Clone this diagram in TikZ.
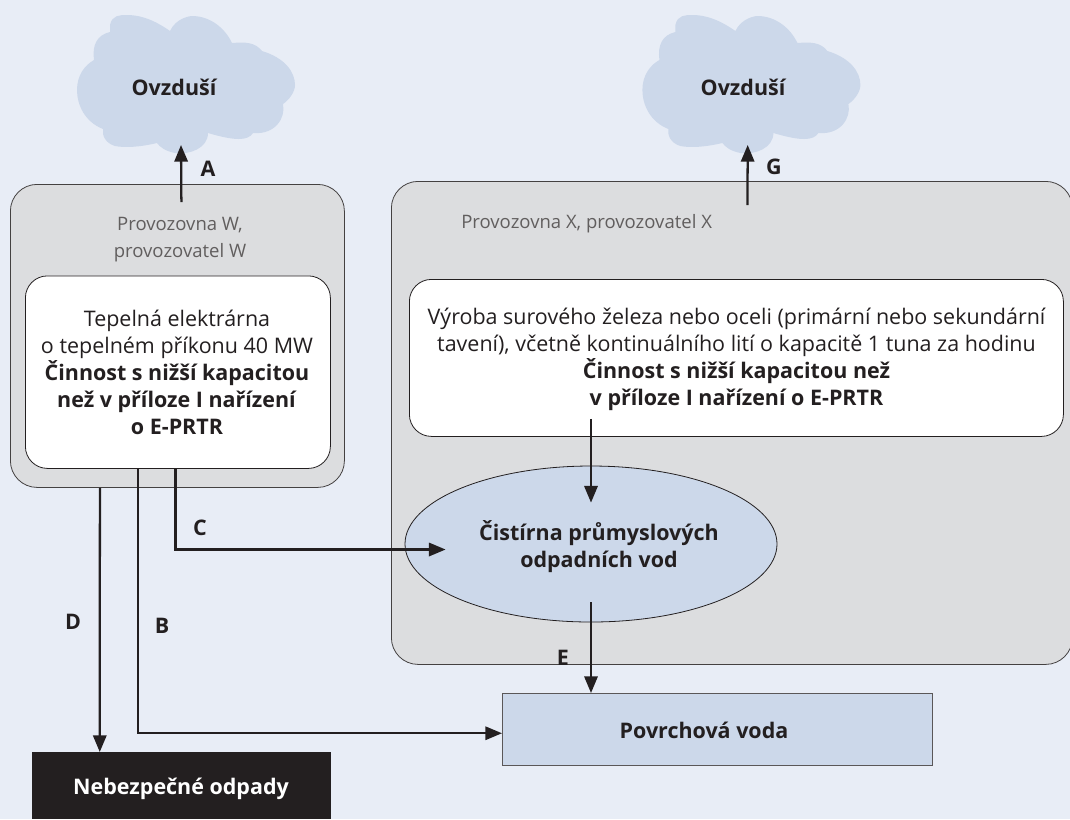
\documentclass[tikz,border=0pt]{standalone}
\usepackage{fontspec}
\setmainfont{Open Sans}
\usetikzlibrary{shapes.geometric,arrows.meta}
\definecolor{bgblue}{HTML}{E8EDF6}
\definecolor{cloudblue}{HTML}{CCD8EA}
\definecolor{boxgrey}{HTML}{DCDDDF}
\definecolor{inkdark}{HTML}{231F20}
\tikzset{
  x=0.75pt,y=-0.75pt,
  every node/.style={text=inkdark,font=\bodyfont,inner sep=0pt,align=center},
  cloudshape/.style={fill=cloudblue,draw=none},
  site/.style={draw=inkdark!85,line width=0.6pt,fill=boxgrey,rounded corners=20pt},
  inner box/.style={draw=inkdark,line width=0.6pt,fill=white,rounded corners=16.5pt},
  flow/.style={draw=inkdark,line width=1.7pt,-{Triangle[length=12.5pt,width=10pt]}},
  tag/.style={font=\bodyfont\bfseries},
  greytext/.style={text=inkdark!72,font=\greyfont},
}
\newcommand{\bodyfont}{\fontsize{16.1}{20.25}\selectfont}
\newcommand{\greyfont}{\fontsize{13.9}{20.25}\selectfont}
\newcommand{\cloudpath}{
  (110,25) .. controls (112,15) and (120,15) .. (127,15)
  .. controls (145,15) and (160,24) .. (170,31)
  .. controls (176,18) and (190,16) .. (192,16)
  .. controls (210,16) and (225,28) .. (232,43)
  .. controls (245,42) and (255,42) .. (262,51)
  .. controls (285,58) and (295,72) .. (295,85)
  .. controls (295,92) and (289,100) .. (283,104)
  .. controls (286,118) and (275,135) .. (253,133)
  .. controls (248,141) and (235,141) .. (208,133)
  .. controls (208,148) and (190,155) .. (175,153)
  .. controls (165,151) and (160,147) .. (157,143)
  .. controls (140,147) and (125,148) .. (115,146)
  .. controls (105,143) and (102,135) .. (103,129)
  .. controls (85,122) and (77,105) .. (77,90)
  .. controls (77,75) and (85,65) .. (94,60)
  .. controls (92,45) and (97,35) .. (110,32)
  .. controls (110,30) and (110,28) .. (110,25) -- cycle
}
\begin{document}
\begin{tikzpicture}
\useasboundingbox (0,0) rectangle (1070,819);
\fill[bgblue] (0,0) rectangle (1070,819);
% clouds
\fill[cloudshape] \cloudpath;
\begin{scope}[xshift=565.4*0.75pt]
\fill[cloudshape] \cloudpath;
\end{scope}
\node[tag] (air1) at (174,87) {Ovzduší};
\node[tag] (air2) at (743,87) {Ovzduší};
% sites
\node[site,minimum width=334*0.75pt,minimum height=303*0.75pt,anchor=north west] (siteW) at (10,184) {};
\node[site,minimum width=681*0.75pt,minimum height=483*0.75pt,anchor=north west] (siteX) at (391,181) {};
\node[greytext] (labW) at (180,239.5) {Provozovna W,\\provozovatel W};
\node[greytext,anchor=west] (labX) at (461,224) {Provozovna X, provozovatel X};
% activities
\node[inner box,minimum width=305*0.75pt,minimum height=192.5*0.75pt,anchor=north west] (actW) at (25,275.5) {};
\node (actWt) at (177,372) {Tepelná elektrárna\\o tepelném příkonu 40 MW\\\textbf{Činnost s nižší kapacitou}\\\textbf{než v příloze I nařízení}\\\textbf{o E-PRTR}};
\node[inner box,minimum width=654*0.75pt,minimum height=157*0.75pt,anchor=north west] (actX) at (409,279) {};
\node (actXt) at (736.5,359.5) {Výroba surového železa nebo oceli (primární nebo sekundární\\tavení), včetně kontinuálního lití o kapacitě 1 tuna za hodinu\\\textbf{Činnost s nižší kapacitou než}\\\textbf{v příloze I nařízení o E-PRTR}};
% treatment
\node[ellipse,draw=inkdark,line width=0.6pt,fill=cloudblue,minimum width=372*0.75pt,minimum height=156*0.75pt] (wwtp) at (591,544) {};
\node[font=\bodyfont\bfseries] (wwtpt) at (599,547) {Čistírna průmyslových\\odpadních vod};
% sinks
\node[draw=inkdark!75,line width=0.8pt,fill=cloudblue,minimum width=430*0.75pt,minimum height=72*0.75pt,anchor=north west,font=\bodyfont\bfseries] (water) at (502,693) {};
\node[tag] (watert) at (704,730) {Povrchová voda};
\node[fill=inkdark,minimum width=299*0.75pt,minimum height=67*0.75pt,anchor=north west] (waste) at (32,752) {};
\node[tag,text=white] (wastet) at (181,789) {Nebezpečné odpady};
% connectors
\draw[flow] ([shift={(4,18)}]siteW.north) -- ([shift={(7,58)}]air1.center);
\draw[flow] ([shift={(4.5,24)}]siteX.north -| air2) -- ([shift={(4.7,58)}]air2.center);
\draw[flow] ([xshift=-2.5*0.75pt]actW.south) |- ([shift={(41,5.5)}]wwtp.west);
\draw[flow] ([xshift=-40*0.75pt]actW.south) |- ([yshift=-3.7*0.75pt]water.west);
\draw[flow] ([xshift=-77.5*0.75pt]siteW.south) -- ([xshift=-82*0.75pt]waste.north);
\draw[flow] ([yshift=18*0.75pt]actX.south -| wwtp.north) -- ([yshift=-37*0.75pt]wwtp.north);
\draw[flow] ([yshift=20*0.75pt]wwtp.south) -- (wwtp.south |- water.north);
% labels
\node[tag] (tagA) at (208,169) {A};
\node[tag] (tagG) at (774,167) {G};
\node[tag] (tagC) at (200,528) {C};
\node[tag] (tagD) at (73,622) {D};
\node[tag] (tagB) at (162,626) {B};
\node[tag] (tagE) at (563,658) {E};
\end{tikzpicture}
\end{document}
